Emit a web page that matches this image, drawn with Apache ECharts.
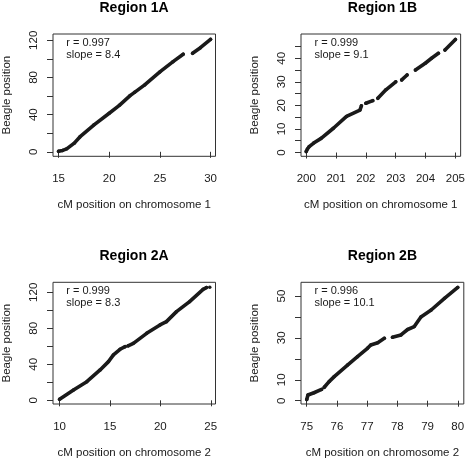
<!DOCTYPE html>
<html><head><meta charset="utf-8">
<script src="https://cdn.jsdelivr.net/npm/echarts@6/dist/echarts.min.js"></script>
<style>html,body{margin:0;padding:0;background:#fff}#c{width:468px;height:460px}</style>
</head><body><div id="c"></div>
<script>
// ---- text ----
const titles = ['Region 1A', 'Region 1B', 'Region 2A', 'Region 2B'];
const xNames = ['cM position on chromosome 1', 'cM position on chromosome 1', 'cM position on chromosome 2', 'cM position on chromosome 2'];
const yName = 'Beagle position';
const rLabels = ['r = 0.997', 'r = 0.999', 'r = 0.999', 'r = 0.996'];
const slopeLabels = ['slope = 8.4', 'slope = 9.1', 'slope = 8.3', 'slope = 10.1'];

// ---- tick values / labels ----
const xTicks1A = [15, 20, 25, 30];
const yTicks1A = [0, 20, 40, 60, 80, 100, 120];
const yLabels1A = [0, 40, 80, 120];
const xTicks1B = [200, 201, 202, 203, 204, 205];
const yTicks1B = [0, 5, 10, 15, 20, 25, 30, 35, 40, 45];
const yLabels1B = [0, 10, 20, 30, 40];
const xTicks2A = [10, 15, 20, 25];
const yTicks2A = [0, 20, 40, 60, 80, 100, 120];
const yLabels2A = [0, 40, 80, 120];
const xTicks2B = [75, 76, 77, 78, 79, 80];
const yTicks2B = [0, 10, 20, 30, 40, 50];
const yLabels2B = [0, 10, 30, 50];

// ---- data (null = gap between point runs) ----
const r1aX = [15.0, 15.4, 15.8, 16.55, 17.1, 18.5, 20.0, 21.0, 22.06, 22.5, 23.5, 25.0, 26.3, 27.3, null, 28.23, 29.0, 30.0];
const r1aY = [0.5, 1.5, 3.2, 9.3, 16, 29, 41.5, 50, 60.5, 64, 72, 86, 97, 105, null, 106, 112, 121];

const r1bX = [200.0, 200.04, 200.1, 200.25, 200.5, 200.91, 201.35, 201.8, 201.85, null, 202.0, 202.23, null, 202.4, 202.67, 203.0, null, 203.2, 203.38, null, 203.66, 203.99, 204.2, 204.43, null, 204.65, 205.0];
const r1bY = [0.4, 1.5, 2.5, 4, 6, 10.3, 15.3, 18, 19.8, null, 20.9, 22, null, 23, 26.6, 30, null, 30.8, 32.9, null, 35, 37.9, 40, 42.1, null, 43.5, 48];

const r2aX = [10.0, 11.38, 12.7, 14.02, 14.85, 15.34, 16.0, 16.5, null, 16.8, 17.32, 18.64, 19.96, 20.6, 21.6, 22.9, 24.24, 24.57, null, 24.9];
const r2aY = [1.1, 11.5, 20.7, 33.7, 43, 50.4, 56.7, 59.6, null, 60.5, 63.3, 74.4, 83.7, 87.4, 98.5, 109.6, 123.3, 125.2, null, 125.6];

const r2bX = [75.0, 75.04, 75.24, 75.49, null, 75.58, 75.74, 75.91, 76.35, 76.68, 77.01, 77.12, 77.35, 77.57, null, 77.84, 78.12, 78.34, 78.56, 78.78, 79.12, 79.56, 80.0];
const r2bY = [0.6, 2.7, 3.8, 5.4, null, 6.4, 9.1, 11.5, 17, 21, 25, 26.6, 27.7, 29.8, null, 30.3, 31.4, 34, 35.4, 40, 43.3, 48.9, 54.1];

// ---- panel configuration ----
const panels = [
  {xMin: 14.45, xMax: 30.49, yMin: -4.83, yMax: 126.77, xTicks: xTicks1A, yTicks: yTicks1A, yLabels: yLabels1A, xs: r1aX, ys: r1aY},
  {xMin: 199.825, xMax: 205.175, yMin: -1.61, yMax: 50.3, xTicks: xTicks1B, yTicks: yTicks1B, yLabels: yLabels1B, xs: r1bX, ys: r1bY},
  {xMin: 9.347, xMax: 25.47, yMin: -4.1, yMax: 131.1, xTicks: xTicks2A, yTicks: yTicks2A, yLabels: yLabels2A, xs: r2aX, ys: r2aY},
  {xMin: 74.81, xMax: 80.2, yMin: -1.58, yMax: 56.54, xTicks: xTicks2B, yTicks: yTicks2B, yLabels: yLabels2B, xs: r2bX, ys: r2bY}
];

const FONT = '"Liberation Sans", Arial, Helvetica, sans-serif';
const colLeft = [52.7, 301];
const rowTop = [34, 282.3];
const W = 162.8, H = 122.3;
const TXT = '#1a1a1a';

const grids = [], xAxes = [], yAxes = [], series = [], graphics = [];
panels.forEach((p, i) => {
  const left = colLeft[i % 2], top = rowTop[Math.floor(i / 2)];
  grids.push({left: left, top: top, width: W, height: H, show: true, borderColor: '#333', borderWidth: 1, backgroundColor: 'transparent'});
  xAxes.push({
    gridIndex: i, type: 'value', min: p.xMin, max: p.xMax,
    axisLine: {show: false}, splitLine: {show: false},
    axisTick: {show: true, inside: false, length: 6, customValues: p.xTicks, lineStyle: {color: '#333'}},
    axisLabel: {customValues: p.xTicks, margin: 17, fontSize: 11.5, color: TXT, fontFamily: FONT},
    name: xNames[i], nameLocation: 'middle', nameGap: 43,
    nameTextStyle: {fontSize: 11.5, color: TXT, fontFamily: FONT}
  });
  yAxes.push({
    gridIndex: i, type: 'value', min: p.yMin, max: p.yMax,
    axisLine: {show: false}, splitLine: {show: false},
    axisTick: {show: true, inside: false, length: 6, customValues: p.yTicks, lineStyle: {color: '#333'}},
    axisLabel: {customValues: p.yLabels, rotate: 90, margin: 13, fontSize: 11.5, color: TXT, fontFamily: FONT},
    name: yName, nameLocation: 'middle', nameGap: 40,
    nameTextStyle: {fontSize: 11.5, color: TXT, fontFamily: FONT}
  });
  // split into runs at null gaps
  let run = [];
  const runs = [];
  p.xs.forEach((x, j) => {
    if (x === null) { if (run.length) runs.push(run); run = []; }
    else run.push([x, p.ys[j]]);
  });
  if (run.length) runs.push(run);
  runs.forEach(r => {
    series.push({
      type: 'line', xAxisIndex: i, yAxisIndex: i, data: r,
      symbol: 'circle', symbolSize: 3.5, showSymbol: true,
      itemStyle: {color: '#1a1a1a'},
      lineStyle: {width: 3.6, color: '#1a1a1a', cap: 'round', join: 'round'},
      silent: true, animation: false, clip: false
    });
  });
  graphics.push({type: 'text', x: left + W / 2, y: top - 26,
    style: {text: titles[i], font: 'bold 14px ' + FONT, fill: '#000', textAlign: 'center', textVerticalAlign: 'middle'}});
  graphics.push({type: 'text', x: left + 13.5, y: top + 9,
    style: {text: rLabels[i], font: '11px ' + FONT, fill: TXT, textAlign: 'left', textVerticalAlign: 'middle'}});
  graphics.push({type: 'text', x: left + 13.5, y: top + 21,
    style: {text: slopeLabels[i], font: '11px ' + FONT, fill: TXT, textAlign: 'left', textVerticalAlign: 'middle'}});
});

const chart = echarts.init(document.getElementById('c'), null, {renderer: 'canvas'});
chart.setOption({
  backgroundColor: '#fff',
  animation: false,
  grid: grids, xAxis: xAxes, yAxis: yAxes, series: series, graphic: graphics
});
</script>
</body></html>
